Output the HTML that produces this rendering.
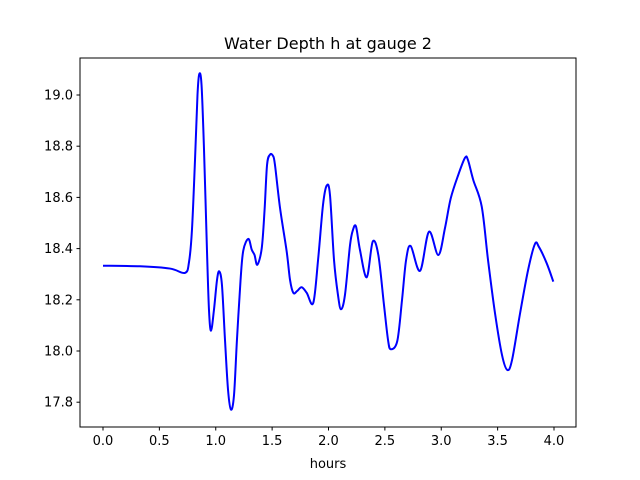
<!DOCTYPE html>
<html><head><meta charset="utf-8"><style>
body{margin:0;background:#fff}
svg{display:block;font-family:"DejaVu Sans","Liberation Sans",sans-serif}
</style></head><body>
<svg id="chart" width="640" height="480" viewBox="0 0 640 480">
<rect width="640" height="480" fill="#fff"/>
<text x="328" y="49" text-anchor="middle" font-size="16">Water Depth h at gauge 2</text>
<g id="plot"></g>
<rect x="80" y="58" width="496" height="369" fill="none" stroke="#000" stroke-width="1"/>
<text x="328" y="468" text-anchor="middle" font-size="13">hours</text>
</svg>
<script>
const hours=[0,.328,.594,.727,.763,.789,.816,.838,.854,.874,.896,.922,.940,.958,.984,1.011,1.031,1.055,1.082,1.109,1.135,1.162,1.188,1.220,1.244,1.289,1.319,1.344,1.369,1.408,1.433,1.455,1.481,1.508,1.525,1.570,1.629,1.659,1.688,1.721,1.762,1.807,1.865,1.909,1.951,1.984,2.013,2.049,2.084,2.111,2.146,2.191,2.217,2.244,2.279,2.339,2.392,2.442,2.492,2.528,2.552,2.610,2.652,2.688,2.729,2.812,2.891,2.974,3.033,3.084,3.151,3.211,3.237,3.284,3.359,3.415,3.477,3.539,3.586,3.628,3.699,3.770,3.831,3.867,3.935,3.994];
const depth=[18.333,18.331,18.322,18.305,18.348,18.473,18.746,19.000,19.082,19.039,18.785,18.395,18.160,18.079,18.160,18.277,18.311,18.258,18.043,17.848,17.771,17.828,18.043,18.277,18.392,18.438,18.396,18.375,18.337,18.402,18.551,18.727,18.767,18.762,18.728,18.559,18.389,18.277,18.227,18.234,18.249,18.227,18.188,18.363,18.570,18.646,18.610,18.355,18.219,18.163,18.219,18.414,18.473,18.486,18.395,18.288,18.427,18.375,18.180,18.043,18.007,18.039,18.199,18.355,18.410,18.313,18.466,18.375,18.480,18.596,18.688,18.755,18.746,18.668,18.564,18.355,18.147,17.984,17.926,17.965,18.147,18.316,18.418,18.406,18.343,18.271];
const xTicks=[0,0.5,1.0,1.5,2.0,2.5,3.0,3.5,4.0];
const xTickLabels=["0.0","0.5","1.0","1.5","2.0","2.5","3.0","3.5","4.0"];
const yTicks=[17.8,18.0,18.2,18.4,18.6,18.8,19.0];
const yTickLabels=["17.8","18.0","18.2","18.4","18.6","18.8","19.0"];
const X=v=>103+v*112.75;
const Y=v=>95+(19.0-v)*256;
const NS="http://www.w3.org/2000/svg";
const g=document.getElementById('plot');
const svg=document.getElementById('chart');
function mk(t,a){const e=document.createElementNS(NS,t);for(const k in a)e.setAttribute(k,a[k]);return e;}
xTicks.forEach((t,i)=>{
  const l=mk('line',{x1:X(t),x2:X(t),y1:427,y2:430.5,stroke:'#000'});
  
  
  svg.appendChild(l);
  const tx=mk('text',{x:X(t),y:445,'text-anchor':'middle','font-size':'13'});
  
  
  tx.textContent=xTickLabels[i];svg.appendChild(tx);
});
yTicks.forEach((t,i)=>{
  const l=mk('line',{x1:76.5,x2:80,y1:Y(t),y2:Y(t),stroke:'#000'});
  
  
  svg.appendChild(l);
  const tx=mk('text',{x:73,y:Y(t)+4.5,'text-anchor':'end','font-size':'13'});
  
  
  tx.textContent=yTickLabels[i];svg.appendChild(tx);
});
const P=hours.map((h,i)=>[X(h),Y(depth[i])]);
let d='M'+P[0][0]+','+P[0][1];
for(let i=0;i<P.length-1;i++){
  const p0=P[Math.max(i-1,0)],p1=P[i],p2=P[i+1],p3=P[Math.min(i+2,P.length-1)];
  const c1=[p1[0]+(p2[0]-p0[0])/6,p1[1]+(p2[1]-p0[1])/6];
  const c2=[p2[0]-(p3[0]-p1[0])/6,p2[1]-(p3[1]-p1[1])/6];
  d+=` C${c1[0]},${c1[1]} ${c2[0]},${c2[1]} ${p2[0]},${p2[1]}`;
}
const path=mk('path',{d:d,fill:'none',stroke:'#0000ff','stroke-width':'2','stroke-linejoin':'round'});


g.appendChild(path);
</script>
</body></html>
